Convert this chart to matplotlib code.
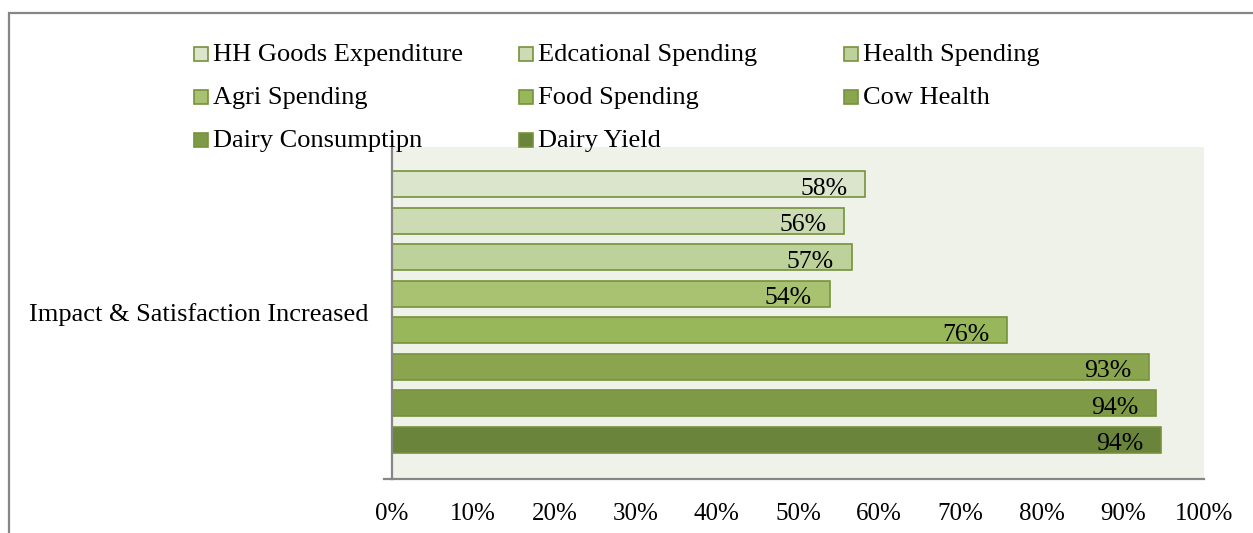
import matplotlib
matplotlib.use('Agg')
import matplotlib.pyplot as plt
from matplotlib.patches import Rectangle

plt.rcParams['font.family'] = ['Liberation Serif', 'DejaVu Serif']

series = ['HH Goods Expenditure', 'Edcational Spending', 'Health Spending',
          'Agri Spending', 'Food Spending', 'Cow Health',
          'Dairy Consumptipn', 'Dairy Yield']
values = [0.583, 0.557, 0.566, 0.539, 0.758, 0.932, 0.941, 0.947]
labels = ['58%', '56%', '57%', '54%', '76%', '93%', '94%', '94%']
colors = ['#dbe5cb', '#ccdbb3', '#bdd19a', '#a8c272',
          '#98b75a', '#8ba54f', '#7f9a46', '#6b843b']
category = 'Impact & Satisfaction Increased'
xticks = [i / 10 for i in range(11)]

W, H = 1253, 533
fig = plt.figure(figsize=(W / 100, H / 100), dpi=100)

# outer chart frame
fig.add_artist(Rectangle((8.5 / W, -0.1), 1.2, 1 - 12.5 / H + 0.1,
                         transform=fig.transFigure, fill=False,
                         edgecolor='#868686', linewidth=1.6))

ax = fig.add_axes([392 / W, 1 - 479 / H, (1204 - 392) / W, (479 - 147) / H])
ax.set_facecolor('#eff2e8')

ypos = list(range(len(series)))
ax.barh(ypos, values, height=0.71, color=colors, edgecolor='#76923c', linewidth=1.2)

# data labels sit inside the bar end
for y, v, lab in zip(ypos, values, labels):
    ax.text(v - 0.022, y + 0.12, lab, ha='right', va='center', fontsize=18.5)

ax.set_xlim(0, 1)
ax.set_ylim(8.07, -1.02)
ax.set_xticks(xticks)
ax.set_xticklabels([f'{int(round(t * 100))}%' for t in xticks], fontsize=18)
ax.tick_params(axis='x', length=0, pad=17)
ax.set_yticks([3.5])
ax.set_yticklabels([category], fontsize=19)
ax.tick_params(axis='y', length=0, pad=17)

for s in ['top', 'right']:
    ax.spines[s].set_visible(False)
for s in ['left', 'bottom']:
    ax.spines[s].set_color('#868686')
    ax.spines[s].set_linewidth(1.6)
ax.plot([-0.01, 0], [8.07, 8.07], color='#868686', lw=1.6, clip_on=False)

# legend, three columns filled row by row
col_x = [201, 526, 851]
row_y = [54, 97, 140]
for i, (name, c) in enumerate(zip(series, colors)):
    px = col_x[i % 3]
    py = row_y[i // 3]
    fig.add_artist(Rectangle(((px - 7) / W, 1 - (py + 7) / H), 14 / W, 14 / H,
                             transform=fig.transFigure, facecolor=c,
                             edgecolor='#76923c', linewidth=1.2))
    fig.text((px + 12) / W, 1 - (py + 1) / H, name, fontsize=19, va='center', ha='left')

fig.savefig('out.png', dpi=100, facecolor='white')
